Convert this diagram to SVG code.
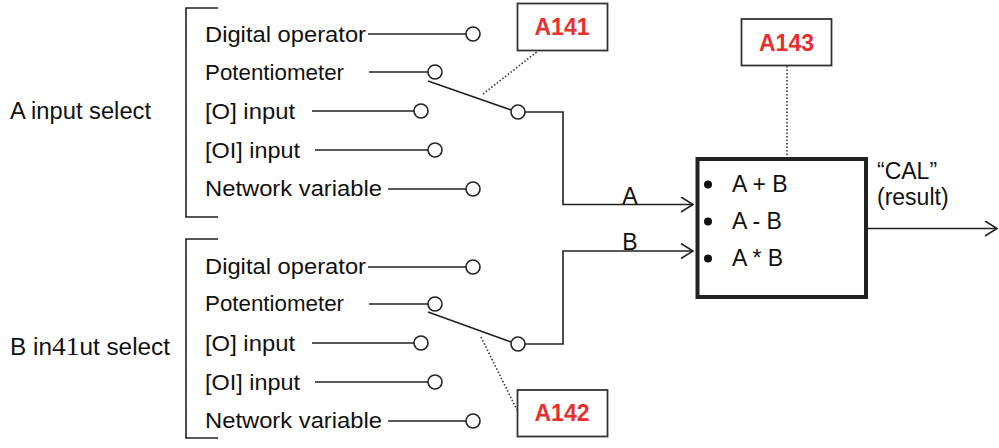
<svg xmlns="http://www.w3.org/2000/svg" width="999" height="448" viewBox="0 0 999 448">
<style>
text{font-family:"Liberation Sans",Arial,sans-serif;fill:#111;}
.serif{font-family:"Liberation Serif","Times New Roman",serif;font-size:26px;}
.t{font-size:22px;}
.lbl{font-size:23px;}
.code{font-size:23px;font-weight:bold;fill:#e8302e;text-anchor:middle;}
.ln{stroke:#222;stroke-width:1.6;fill:none;}
.dot{stroke:#333;stroke-width:1.6;fill:none;stroke-dasharray:1.5 2;}
.term{stroke:#222;stroke-width:1.6;fill:#fff;}
.cbox{stroke:#333;stroke-width:1.8;fill:#fff;}
.arr{marker-end:url(#oa);}
</style>
<defs>
<marker id="oa" markerUnits="userSpaceOnUse" markerWidth="16" markerHeight="18" refX="13" refY="8" orient="auto">
<path d="M1,0.5 L13,8 L1,15.5" fill="none" stroke="#222" stroke-width="1.6"/>
</marker>
</defs>

<g id="a-select">
<text class="lbl" x="10" y="119" textLength="141" lengthAdjust="spacingAndGlyphs">A input select</text>
<path class="ln" d="M218,8 H186 V217 H218"/>
</g>
<g id="a-digital"><text class="t" x="205" y="42" textLength="161" lengthAdjust="spacingAndGlyphs">Digital operator</text><line class="ln" x1="368" y1="34" x2="466" y2="34"/><circle class="term" cx="473" cy="34" r="7"/></g>
<g id="a-pot"><text class="t" x="205" y="80" textLength="139" lengthAdjust="spacingAndGlyphs">Potentiometer</text><line class="ln" x1="369" y1="72" x2="428" y2="72"/><circle class="term" cx="435" cy="72" r="7"/></g>
<g id="a-o"><text class="t" x="205" y="119" textLength="90" lengthAdjust="spacingAndGlyphs">[O] input</text><line class="ln" x1="312" y1="111" x2="414" y2="111"/><circle class="term" cx="421" cy="111" r="7"/></g>
<g id="a-oi"><text class="t" x="205" y="158" textLength="95" lengthAdjust="spacingAndGlyphs">[OI] input</text><line class="ln" x1="315" y1="150" x2="428" y2="150"/><circle class="term" cx="435" cy="150" r="7"/></g>
<g id="a-net"><text class="t" x="205" y="196" textLength="177" lengthAdjust="spacingAndGlyphs">Network variable</text><line class="ln" x1="388" y1="189" x2="466" y2="189"/><circle class="term" cx="473" cy="189" r="7"/></g>
<g id="a-switch"><line class="ln" x1="428" y1="81" x2="511" y2="110"/><circle class="term" cx="518" cy="112" r="7"/></g>

<g id="b-select">
<text class="lbl" x="10" y="355" textLength="160" lengthAdjust="spacingAndGlyphs">B in<tspan class="serif">41</tspan>ut select</text>
<path class="ln" d="M218,239 H186 V438 H218"/>
</g>
<g id="b-digital"><text class="t" x="205" y="274" textLength="161" lengthAdjust="spacingAndGlyphs">Digital operator</text><line class="ln" x1="368" y1="267" x2="466" y2="267"/><circle class="term" cx="473" cy="267" r="7"/></g>
<g id="b-pot"><text class="t" x="205" y="311" textLength="139" lengthAdjust="spacingAndGlyphs">Potentiometer</text><line class="ln" x1="369" y1="304" x2="428" y2="304"/><circle class="term" cx="435" cy="304" r="7"/></g>
<g id="b-o"><text class="t" x="205" y="351" textLength="90" lengthAdjust="spacingAndGlyphs">[O] input</text><line class="ln" x1="312" y1="343" x2="414" y2="343"/><circle class="term" cx="421" cy="343" r="7"/></g>
<g id="b-oi"><text class="t" x="205" y="390" textLength="95" lengthAdjust="spacingAndGlyphs">[OI] input</text><line class="ln" x1="315" y1="382" x2="428" y2="382"/><circle class="term" cx="435" cy="382" r="7"/></g>
<g id="b-net"><text class="t" x="205" y="428" textLength="177" lengthAdjust="spacingAndGlyphs">Network variable</text><line class="ln" x1="388" y1="421" x2="466" y2="421"/><circle class="term" cx="473" cy="421" r="7"/></g>
<g id="b-switch"><line class="ln" x1="428" y1="312" x2="511" y2="342"/><circle class="term" cx="518" cy="344" r="7"/></g>

<g id="A141"><rect class="cbox" x="517.5" y="3.5" width="90" height="47"/><text class="code" x="562" y="35">A141</text></g>
<g id="A142"><rect class="cbox" x="517.5" y="390" width="90" height="46.5"/><text class="code" x="562" y="421">A142</text></g>
<g id="A143"><rect class="cbox" x="741.5" y="19" width="90" height="46.5"/><text class="code" x="786.5" y="51">A143</text></g>

<g id="calc">
<rect x="697.5" y="159" width="168.5" height="138" fill="#fff" stroke="#222" stroke-width="4"/>
<circle cx="708" cy="184.5" r="4" fill="#111"/>
<circle cx="708" cy="221.5" r="4" fill="#111"/>
<circle cx="708" cy="258.5" r="4" fill="#111"/>
<text class="lbl" x="732" y="192">A + B</text>
<text class="lbl" x="732" y="229">A - B</text>
<text class="lbl" x="732" y="266">A * B</text>
</g>
<g id="result">
<text class="lbl" x="877" y="179">“CAL”</text>
<text class="lbl" x="877" y="205">(result)</text>
</g>

<g id="connectors">
<polyline class="ln arr" points="525,112 563,112 563,204.5 693,204.5"/>
<polyline class="ln arr" points="525,344 563,344 563,251 693,251"/>
<line class="ln arr" x1="868" y1="228.5" x2="997" y2="228.5"/>
<line class="dot" x1="483" y1="94" x2="538" y2="51"/>
<line class="dot" x1="481" y1="337" x2="517" y2="410"/>
<line class="dot" x1="787" y1="66" x2="787" y2="157"/>
<text class="lbl" x="630" y="204" text-anchor="middle">A</text>
<text class="lbl" x="630" y="250" text-anchor="middle">B</text>
</g>
</svg>
